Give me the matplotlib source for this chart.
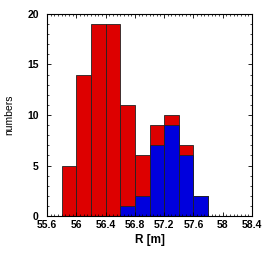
import matplotlib
matplotlib.use("Agg")
import matplotlib.pyplot as plt
from matplotlib.ticker import MultipleLocator
import numpy as np

bin_left = [55.8, 56.0, 56.2, 56.4, 56.6, 56.8, 57.0, 57.2, 57.4, 57.6]
red_counts = [5, 14, 19, 19, 11, 6, 9, 10, 7, 2]
blue_counts = [0, 0, 0, 0, 1, 2, 7, 9, 6, 2]
bin_width = 0.2

plt.rcParams['font.family'] = ['Liberation Sans', 'DejaVu Sans']

fig = plt.figure(figsize=(2.74, 2.56), dpi=100)
ax = fig.add_axes([47/274, 1-216/256, (252-47)/274, (216-14)/256])

ax.bar(bin_left, red_counts, width=bin_width, align='edge', color='#dd0000',
       edgecolor='#222222', linewidth=0.6)
ax.bar(bin_left, blue_counts, width=bin_width, align='edge', color='#0000dd',
       edgecolor='#222222', linewidth=0.6)

ax.set_xlim(55.6, 58.4)
ax.set_ylim(0, 20)
ax.xaxis.set_minor_locator(MultipleLocator(0.05))
ax.yaxis.set_major_locator(MultipleLocator(5))
ax.yaxis.set_minor_locator(MultipleLocator(1))
ax.set_xticks([55.6, 56.0, 56.4, 56.8, 57.2, 57.6, 58.0, 58.4])
ax.set_xticklabels(['55.6', '56', '56.4', '56.8', '57.2', '57.6', '58', '58.4'])
ax.tick_params(which='both', direction='in', top=True, right=True, labelsize=7.5)
ax.tick_params(axis='x', pad=3)
ax.tick_params(axis='y', pad=6)
ax.tick_params(which='major', length=3, width=0.6)
ax.tick_params(which='minor', length=1.5, width=0.5)
for lab in ax.get_xticklabels() + ax.get_yticklabels():
    lab.set_fontweight('bold')
for s in ax.spines.values():
    s.set_linewidth(0.8)

ax.set_xlabel('R [m]', fontsize=8.5, fontweight='bold', labelpad=3)
ax.set_ylabel('numbers', fontsize=7.5, labelpad=9)

fig.savefig('out.png', dpi=100)
